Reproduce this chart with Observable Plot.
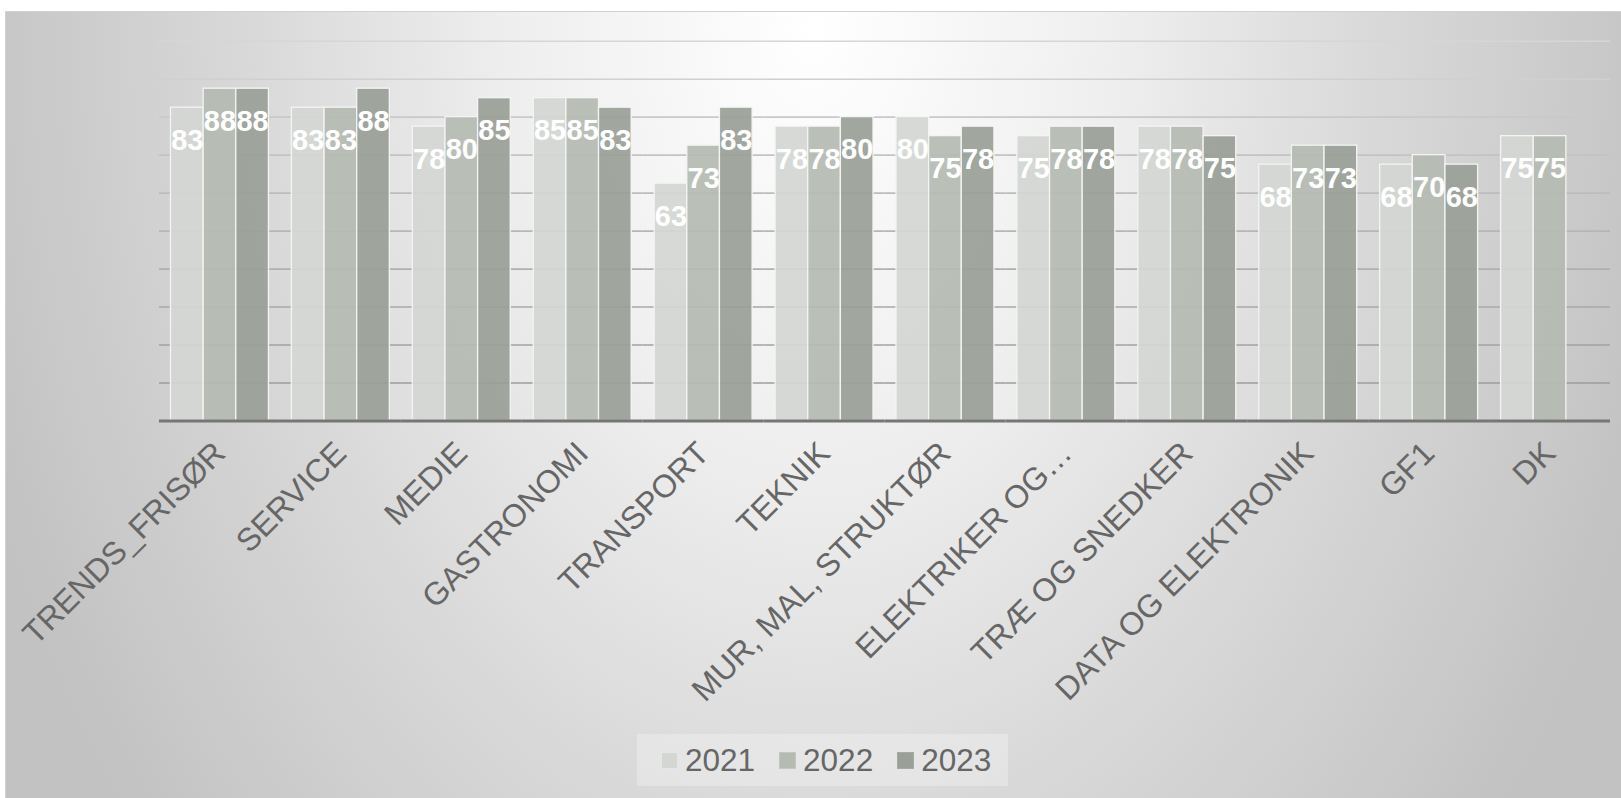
<!DOCTYPE html>
<html><head><meta charset="utf-8">
<script src="https://cdn.jsdelivr.net/npm/d3@7"></script>
<script src="https://cdn.jsdelivr.net/npm/@observablehq/plot@0.6"></script>
<style>
html,body{margin:0;padding:0;background:#fff;width:1621px;height:798px;overflow:hidden;font-family:"Liberation Sans",Arial,sans-serif;}
#bg{position:absolute;left:5px;top:11px;width:1616px;height:787px;border-top:1.5px solid #d2d2d2;border-left:1.5px solid #d2d2d2;box-sizing:border-box;
background:radial-gradient(ellipse 880px 1250px at 50% 2%, #ffffff 0%, #eeeeee 35%, #d8d8d8 65%, #c2c2c2 100%);}
#chart{position:absolute;left:0;top:0;}
#legend{position:absolute;left:637px;top:734px;width:371px;height:52px;background:rgba(255,255,255,0.28);display:flex;align-items:center;box-sizing:border-box;padding-left:24px;}
.item{display:flex;align-items:center;margin-right:24px;}
.sw{width:17px;height:17px;box-sizing:border-box;margin-right:7px;}
.lt{font-size:31.5px;color:#666;line-height:30px;}
</style>
</head><body>
<div id="bg"></div>
<div id="chart"></div>
<div id="legend"></div>
<script>
const categories = ["TRENDS_FRISØR","SERVICE","MEDIE","GASTRONOMI","TRANSPORT","TEKNIK","MUR, MAL, STRUKTØR","ELEKTRIKER OG…","TRÆ OG SNEDKER","DATA OG ELEKTRONIK","GF1","DK"];
const years = ["2021","2022","2023"];
const values2021 = [82.5,82.5,77.5,85,62.5,77.5,80,75,77.5,67.5,67.5,75];
const values2022 = [87.5,82.5,80,85,72.5,77.5,75,77.5,77.5,72.5,70,75];
const values2023 = [87.5,87.5,85,82.5,82.5,80,77.5,77.5,75,72.5,67.5,null];
const yTicks = [10,20,30,40,50,60,70,80,90,100];
const colors = ["#d3d6d2","#b5bab2","#9a9f98"];

const series = [values2021, values2022, values2023];
const rows = [];
categories.forEach((c, i) => {
  years.forEach((y, j) => {
    const v = series[j][i];
    if (v != null) rows.push({cat: c, year: y, value: v});
  });
});

const gridColor = d3.scaleLinear().domain([10, 100]).range(["#9c9c9c", "#d6d6d6"]);
const ext = -11.5; // extend rules across the gaps between facets

const chart = Plot.plot({
  width: 1621, height: 720,
  marginLeft: 159, marginRight: 11, marginTop: 40.7, marginBottom: 299.5,
  style: {background: "transparent", fontFamily: "Liberation Sans, Arial, sans-serif", overflow: "visible"},
  fx: {domain: categories, paddingInner: 0.19, paddingOuter: 0.095, round: false},
  x: {domain: years, padding: 0, axis: null, round: false},
  y: {domain: [0, 100], axis: null},
  color: {domain: years, range: colors},
  marks: [
    ...yTicks.map(t => Plot.ruleY([t], {stroke: gridColor(t), strokeWidth: 1.6, insetLeft: ext, insetRight: ext})),
    Plot.barY(rows, {fx: "cat", x: "year", y: "value", fill: "year", fillOpacity: 0.93, stroke: "#f4f4f4", strokeWidth: 1.3}),
    Plot.ruleY([0], {stroke: "#767676", strokeWidth: 3, insetLeft: ext, insetRight: ext}),
    Plot.text(rows, {fx: "cat", x: "year", y: "value", text: d => String(Math.round(d.value)), lineAnchor: "top", dy: 21.5, fill: "white", fontSize: 29, fontWeight: "bold"}),
    Plot.axisFx({anchor: "bottom", tickRotate: -45, tickSize: 0, tickPadding: 27, dx: 0, fontSize: 32, fill: "#666", label: null})
  ]
});
document.getElementById("chart").appendChild(chart);

const legend = d3.select("#legend");
years.forEach((y, j) => {
  const it = legend.append("div").attr("class", "item");
  it.append("div").attr("class", "sw").style("background", colors[j]).style("border", j === 0 ? "1px solid #e6e6e6" : "1px solid " + d3.color(colors[j]).brighter(0.2));
  it.append("span").attr("class", "lt").text(y);
});
</script>
</body></html>
